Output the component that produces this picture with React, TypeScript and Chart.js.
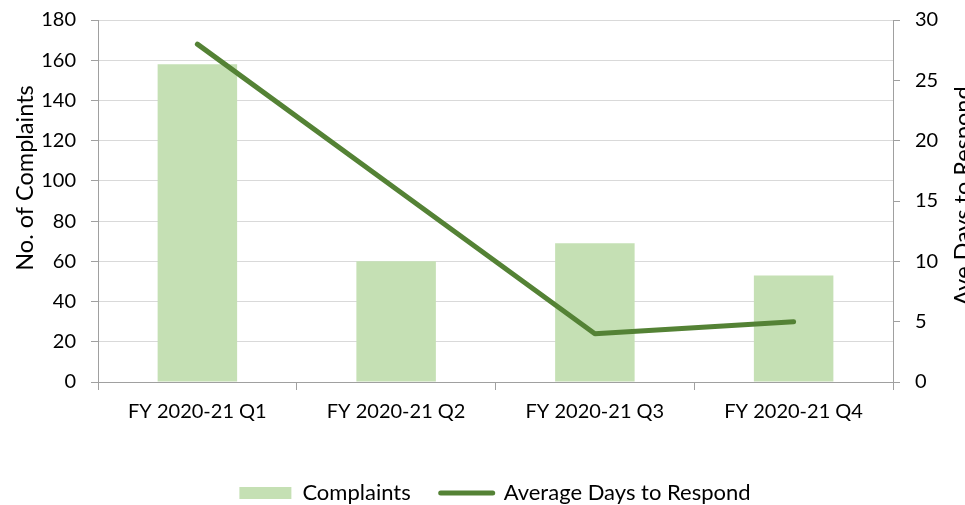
import React, { useEffect, useRef } from "react";
import { Chart, registerables } from "chart.js";

Chart.register(...registerables);

const categories = ["FY 2020-21 Q1", "FY 2020-21 Q2", "FY 2020-21 Q3", "FY 2020-21 Q4"];
const complaints = [158, 60, 69, 53];
const avgDays = [28, 16, 4, 5];
const leftTicks = [0, 180, 20];
const rightTicks = [0, 30, 5];
const leftTitle = "No. of Complaints";
const rightTitle = "Ave Days to Respond";
const seriesNames = ["Complaints", "Average Days to Respond"];

const FONT = "Lato";
const TEXT = "#000000";
const BAR = "#c5e0b4";
const LINE = "#548235";
const AXIS = "#a0a0a0";
const GRID = "#d9d9d9";

const axisTitlesPlugin = {
  id: "axisTitles",
  afterDraw(chart: any) {
    const { ctx } = chart;
    const draw = (text: string, x: number, y: number) => {
      ctx.save();
      ctx.translate(x, y);
      ctx.rotate(-Math.PI / 2);
      ctx.font = `23.5px ${FONT}`;
      ctx.fillStyle = TEXT;
      ctx.textAlign = "center";
      ctx.textBaseline = "middle";
      ctx.fillText(text, 0, 0);
      ctx.restore();
    };
    draw(leftTitle, 25, 178);
    draw(rightTitle, 963, 196);
  },
};

export default function App() {
  const ref = useRef<HTMLCanvasElement | null>(null);
  useEffect(() => {
    if (!ref.current) return;
    const chart = new Chart(ref.current, {
      type: "bar",
      data: {
        labels: categories,
        datasets: [
          {
            type: "bar",
            label: seriesNames[0],
            data: complaints,
            backgroundColor: BAR,
            borderWidth: 0,
            yAxisID: "y",
            barPercentage: 0.4,
            categoryPercentage: 1,
            order: 1,
          } as any,
          {
            type: "line",
            label: seriesNames[1],
            data: avgDays,
            borderColor: LINE,
            backgroundColor: LINE,
            borderWidth: 5,
            borderCapStyle: "round",
            borderJoinStyle: "round",
            pointRadius: 0,
            tension: 0,
            yAxisID: "y1",
            order: 0,
          } as any,
        ],
      },
      options: {
        animation: false,
        responsive: false,
        maintainAspectRatio: false,
        layout: { padding: { top: 20, left: 0, right: 0, bottom: 6 } },
        plugins: {
          tooltip: { enabled: false },
          legend: {
            position: "bottom",
            labels: {
              usePointStyle: true,
              pointStyleWidth: 52,
              boxHeight: 12,
              padding: 30,
              color: TEXT,
              font: { family: FONT, size: 22 },
              generateLabels: (c: any) =>
                c.data.datasets.map((d: any, i: number) => ({
                  text: d.label,
                  fillStyle: i === 0 ? BAR : LINE,
                  strokeStyle: i === 0 ? BAR : LINE,
                  lineWidth: i === 0 ? 0 : 5,
                  lineCap: "round",
                  pointStyle: i === 0 ? "rect" : "line",
                  datasetIndex: i,
                  hidden: false,
                  fontColor: TEXT,
                })),
            },
          },
        },
        scales: {
          x: {
            offset: true,
            grid: {
              offset: true,
              drawOnChartArea: false,
              drawTicks: true,
              tickLength: 8,
              color: AXIS,
              tickColor: AXIS,
            },
            border: { display: true, color: AXIS, width: 1 },
            ticks: { color: TEXT, font: { family: FONT, size: 20 }, padding: 10, maxRotation: 0 },
            afterFit: (s: any) => {
              s.height = 70;
              s.paddingLeft = 0;
              s.paddingRight = 0;
            },
          },
          y: {
            position: "left",
            min: leftTicks[0],
            max: leftTicks[1],
            ticks: { stepSize: leftTicks[2], color: TEXT, font: { family: FONT, size: 20 }, padding: 15 },
            grid: { color: GRID, tickColor: AXIS, tickLength: 7, drawTicks: true },
            border: { display: true, color: AXIS, width: 1 },
            afterFit: (s: any) => {
              s.width = 98;
              s.paddingTop = 0;
              s.paddingBottom = 0;
            },
          },
          y1: {
            position: "right",
            min: rightTicks[0],
            max: rightTicks[1],
            ticks: { stepSize: rightTicks[2], color: TEXT, font: { family: FONT, size: 20 }, padding: 15 },
            grid: { drawOnChartArea: false, tickColor: AXIS, color: AXIS, tickLength: 7, drawTicks: true },
            border: { display: true, color: AXIS, width: 1 },
            afterFit: (s: any) => {
              s.width = 97;
              s.paddingTop = 0;
              s.paddingBottom = 0;
            },
          },
        },
      },
      plugins: [axisTitlesPlugin],
    });
    return () => chart.destroy();
  }, []);
  return (
    <div style={{ position: "absolute", left: 0, top: 0, width: 965, height: 505, overflow: "hidden", background: "#fff" }}>
      <canvas ref={ref} width={990} height={520} style={{ display: "block", width: 990, height: 520 }} />
    </div>
  );
}
